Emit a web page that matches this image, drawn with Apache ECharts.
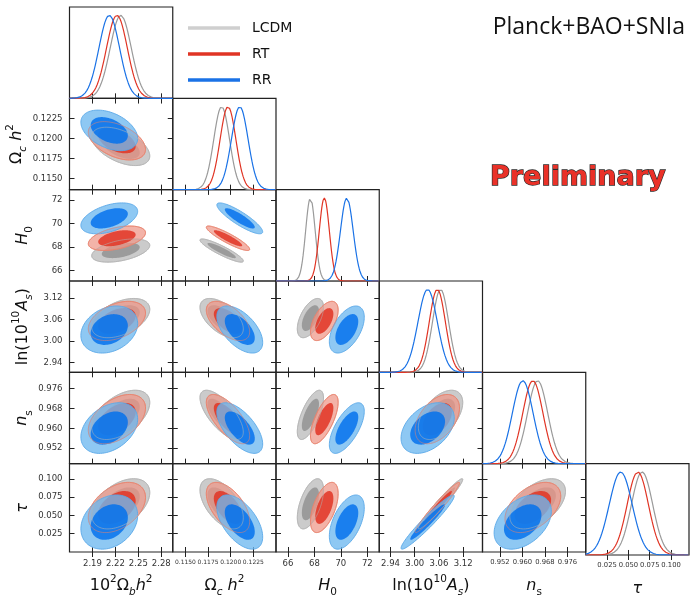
<!DOCTYPE html>
<html>
<head>
<meta charset="utf-8">
<title>Planck+BAO+SNIa</title>
<script src="https://cdn.jsdelivr.net/npm/echarts@6/dist/echarts.min.js"></script>
<style>
  html, body { margin: 0; padding: 0; background: #fff; }
  #chart { width: 698px; height: 599px; }
</style>
</head>
<body>
<div id="chart"></div>
<script>
// parameter order: 100 Ωb h², Ωc h², H0, ln(10^10 As), ns, τ
const models = ['LCDM', 'RT', 'RR'];

const paramMin = [2.16, 0.1136, 65.1, 2.912, 0.9458, 0.0];
const paramMax = [2.295, 0.1250, 72.9, 3.168, 0.9825, 0.121];

const tickValues = [
  [2.19, 2.22, 2.25, 2.28],
  [0.1150, 0.1175, 0.1200, 0.1225],
  [66, 68, 70, 72],
  [2.94, 3.00, 3.06, 3.12],
  [0.952, 0.960, 0.968, 0.976],
  [0.025, 0.050, 0.075, 0.100]
];
const tickDecimals = [2, 4, 0, 2, 3, 3];

// posterior means
const meanLCDM = [2.227, 0.1190, 67.70, 3.064, 0.9654, 0.066];
const meanRT   = [2.222, 0.1197, 68.75, 3.056, 0.9637, 0.061];
const meanRR   = [2.212, 0.1210, 70.45, 3.032, 0.9601, 0.041];

// 1D widths
const sigmaLCDM = [0.0138, 0.00087, 0.36, 0.020, 0.0036, 0.0125];
const sigmaRT   = [0.0136, 0.00087, 0.38, 0.020, 0.0036, 0.0125];
const sigmaRR   = [0.0135, 0.00092, 0.48, 0.024, 0.0037, 0.0135];

// correlations, pairs in order (0,1)(0,2)(0,3)(0,4)(0,5)(1,2)(1,3)(1,4)(1,5)(2,3)(2,4)(2,5)(3,4)(3,5)(4,5)
const corrLCDM = [-0.50, 0.45, 0.45, 0.50, 0.45, -0.90, -0.55, -0.70, -0.55, 0.55, 0.68, 0.55, 0.50, 0.97, 0.50];
const corrRT   = [-0.45, 0.45, 0.40, 0.45, 0.40, -0.90, -0.55, -0.68, -0.55, 0.55, 0.68, 0.55, 0.45, 0.97, 0.45];
const corrRR   = [-0.40, 0.45, 0.25, 0.35, 0.25, -0.87, -0.55, -0.63, -0.55, 0.52, 0.66, 0.52, 0.40, 0.96, 0.40];

const means = [meanLCDM, meanRT, meanRR];
const sigmas = [sigmaLCDM, sigmaRT, sigmaRR];
const corrs = [corrLCDM, corrRT, corrRR];

const FONT = 'DejaVu Sans';
const N = 6;
const LEFT = 69.5, TOP = 7, CELL_W = 103.25, CELL_H = 91.33;
const LEVELS = [2.75, 1.8]; // outer (95%), inner (68%) in sigma units, widened a bit like smoothed contours

const lineColors = ['#9a9a9a', '#e03424', '#1a72e6'];
const legendColors = ['#cfcfcf', '#e03424', '#1a72e6'];
const fillOuter = ['rgb(203,203,203)', 'rgba(238,150,135,0.72)', 'rgba(110,185,240,0.78)'];
const fillInner = ['rgb(155,155,155)', 'rgba(224,52,36,0.85)', 'rgba(0,111,237,0.82)'];
const strokeOuter = ['#b5b5b5', '#e8846f', '#5aa8e8'];

const xLabelSize = [8.5, 6, 8.5, 8.5, 6.8, 6.8];

const nameRich = {
  n: { fontFamily: FONT, fontSize: 16, color: '#111', lineHeight: 24 },
  i: { fontFamily: FONT, fontSize: 16, fontStyle: 'italic', color: '#111', lineHeight: 24 },
  sup: { fontFamily: FONT, fontSize: 10.5, color: '#111', verticalAlign: 'top' },
  sub: { fontFamily: FONT, fontSize: 10.5, color: '#111', verticalAlign: 'bottom' },
  subi: { fontFamily: FONT, fontSize: 10.5, fontStyle: 'italic', color: '#111', verticalAlign: 'bottom' }
};
const axisNames = [
  '{n|10}{sup|2}{n|Ω}{subi|b}{i|h}{sup|2}',
  '{n|Ω}{subi|c}{i| h}{sup|2}',
  '{i|H}{sub|0}',
  '{n|ln(10}{sup|10}{i|A}{subi|s}{n|)}',
  '{i|n}{sub|s}',
  '{i|τ}'
];

function pairIndex(a, b) {
  // a < b
  let k = 0;
  for (let i = 0; i < N; i++) {
    for (let j = i + 1; j < N; j++) {
      if (i === a && j === b) return k;
      k++;
    }
  }
  return -1;
}

function ellipse(mi, px, py, level) {
  const mx = means[mi][px], my = means[mi][py];
  const sx = sigmas[mi][px], sy = sigmas[mi][py];
  const rho = corrs[mi][pairIndex(Math.min(px, py), Math.max(px, py))];
  const pts = [];
  for (let t = 0; t < 90; t++) {
    const a = 2 * Math.PI * t / 90;
    const u = Math.cos(a), v = Math.sin(a);
    pts.push([mx + level * sx * u, my + level * sy * (rho * u + Math.sqrt(1 - rho * rho) * v)]);
  }
  return pts;
}

const grids = [], xAxes = [], yAxes = [], series = [];

function tickAxis(p, gi, pos, withLabels, isX) {
  const ax = {
    type: 'value', gridIndex: gi, position: pos,
    min: paramMin[p], max: paramMax[p],
    axisLine: { show: false },
    splitLine: { show: false },
    axisTick: { show: true, inside: true, length: 5, customValues: tickValues[p],
      lineStyle: { color: '#222', width: 1 } },
    axisLabel: { show: withLabels, customValues: tickValues[p],
      formatter: function (v) { return v.toFixed(tickDecimals[p]); },
      fontFamily: FONT, color: '#333',
      fontSize: isX ? xLabelSize[p] : 8.5, margin: 7 }
  };
  if (withLabels) {
    ax.name = axisNames[p];
    ax.nameLocation = 'middle';
    ax.nameGap = isX ? 22 : 35;
    if (!isX) ax.nameRotate = 90;
    ax.nameTextStyle = { rich: nameRich };
  }
  return ax;
}

for (let r = 0; r < N; r++) {
  for (let c = 0; c <= r; c++) {
    const gi = grids.length;
    grids.push({
      left: LEFT + c * CELL_W, top: TOP + r * CELL_H, width: CELL_W, height: CELL_H,
      show: true, borderColor: '#222', borderWidth: 1.2, backgroundColor: 'transparent'
    });
    xAxes.push(tickAxis(c, gi, 'bottom', r === N - 1, true));
    xAxes.push(tickAxis(c, gi, 'top', false, true));
    if (r === c) {
      yAxes.push({ type: 'value', gridIndex: gi, min: 0, max: 1.1, show: false });
      yAxes.push({ type: 'value', gridIndex: gi, min: 0, max: 1.1, show: false });
      // 1D marginals
      models.forEach(function (m, mi) {
        const mu = means[mi][c], s = sigmas[mi][c];
        const pts = [];
        for (let k = 0; k <= 160; k++) {
          const x = paramMin[c] + (paramMax[c] - paramMin[c]) * k / 160;
          pts.push([x, Math.exp(-0.5 * Math.pow((x - mu) / s, 2))]);
        }
        series.push({
          type: 'line', name: m, xAxisIndex: 2 * gi, yAxisIndex: 2 * gi,
          data: pts, showSymbol: false, silent: true,
          lineStyle: { color: lineColors[mi], width: 1.2 },
          itemStyle: { color: lineColors[mi] }
        });
      });
    } else {
      yAxes.push(tickAxis(r, gi, 'left', c === 0, false));
      yAxes.push(tickAxis(r, gi, 'right', false, false));
      const px = c, py = r;
      series.push({
        type: 'custom', xAxisIndex: 2 * gi, yAxisIndex: 2 * gi, silent: true, clip: true,
        data: [[means[0][px], means[0][py]]],
        renderItem: function (params, api) {
          const children = [];
          models.forEach(function (m, mi) {
            const outer = ellipse(mi, px, py, LEVELS[0]).map(function (p) { return api.coord(p); });
            const inner = ellipse(mi, px, py, LEVELS[1]).map(function (p) { return api.coord(p); });
            children.push({ type: 'polygon', shape: { points: outer },
              style: { fill: fillOuter[mi], stroke: strokeOuter[mi], lineWidth: 0.9 } });
            children.push({ type: 'polygon', shape: { points: inner },
              style: { fill: fillInner[mi] } });
          });
          // outlines of the lower layers stay visible through the blue fill
          [0, 1].forEach(function (mi) {
            const outer = ellipse(mi, px, py, LEVELS[0]).map(function (p) { return api.coord(p); });
            children.push({ type: 'polygon', shape: { points: outer },
              style: { fill: 'none', stroke: strokeOuter[mi], lineWidth: 0.9, opacity: 0.6 } });
          });
          return { type: 'group', children: children };
        }
      });
    }
  }
}

const chart = echarts.init(document.getElementById('chart'));
chart.setOption({
  animation: false,
  backgroundColor: '#fff',
  title: [
    { text: 'Planck+BAO+SNIa', right: 8, top: 11,
      textStyle: { fontFamily: 'Open Sans', fontSize: 23, fontWeight: 'normal', color: '#111' } },
    { text: 'Preliminary', left: 485, top: 159,
      textStyle: { fontFamily: FONT, fontSize: 27, fontWeight: 'bold', color: '#ea3128',
        textBorderColor: '#2a2a2a', textBorderWidth: 1.3 } }
  ],
  legend: {
    orient: 'vertical', left: 183, top: 16, itemGap: 12,
    itemWidth: 52, itemHeight: 3.5, icon: 'rect', selectedMode: false,
    textStyle: { fontFamily: FONT, fontSize: 14, color: '#111', padding: [0, 0, 0, 7] },
    data: models.map(function (m, mi) { return { name: m, itemStyle: { color: legendColors[mi] } }; })
  },
  grid: grids,
  xAxis: xAxes,
  yAxis: yAxes,
  series: series
});
</script>
</body>
</html>
